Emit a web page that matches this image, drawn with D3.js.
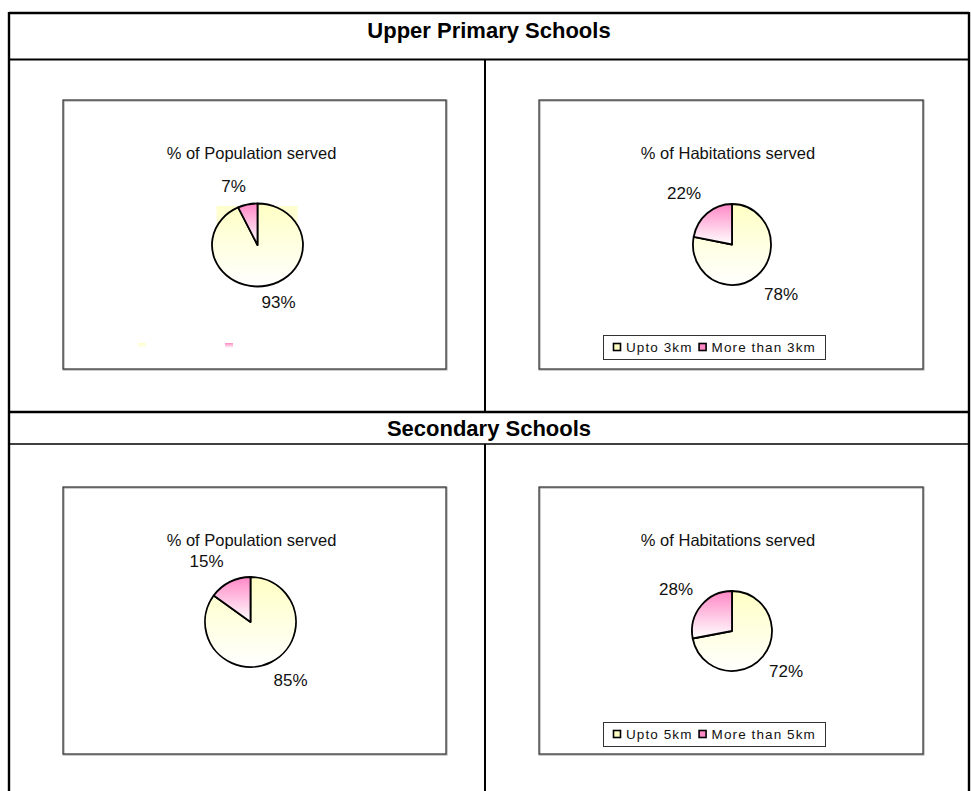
<!DOCTYPE html>
<html>
<head>
<meta charset="utf-8">
<script src="https://cdn.jsdelivr.net/npm/d3@7/dist/d3.min.js"></script>
<style>
  html, body { margin: 0; padding: 0; background: #fff; }
  svg { display: block; font-family: "Liberation Sans", Arial, sans-serif; }
</style>
</head>
<body>
<svg id="chart" width="971" height="791"></svg>
<script>
// ---- data ----
const sectionTitles = ["Upper Primary Schools", "Secondary Schools"];
const chartTitles = ["% of Population served", "% of Habitations served"];
const categoriesUpperPrimary = ["Upto 3km", "More than 3km"];
const categoriesSecondary = ["Upto 5km", "More than 5km"];
const upperPrimaryPopulation = [93, 7];
const upperPrimaryHabitations = [78, 22];
const secondaryPopulation = [85, 15];
const secondaryHabitations = [72, 28];

// ---- layout of the four chart panels ----
// labelOff: centre of each value label relative to the pie centre
const panels = [
  { values: upperPrimaryPopulation, cats: categoriesUpperPrimary, title: chartTitles[0],
    box: [63, 100, 446, 369], cx: 257.5, cy: 245, rx: 45.5, ry: 41.5,
    labelOff: [[21, 57], [-24, -59]], legend: false, strayKeys: true },
  { values: upperPrimaryHabitations, cats: categoriesUpperPrimary, title: chartTitles[1],
    box: [539, 100, 923, 369], cx: 732, cy: 244.5, rx: 39, ry: 40.5,
    labelOff: [[49, 50], [-48, -51]], legend: true },
  { values: secondaryPopulation, cats: categoriesSecondary, title: chartTitles[0],
    box: [63, 487, 446, 754], cx: 250.5, cy: 622, rx: 45.5, ry: 45,
    labelOff: [[40, 58], [-44, -61]], legend: false },
  { values: secondaryHabitations, cats: categoriesSecondary, title: chartTitles[1],
    box: [539, 487, 923, 754], cx: 732, cy: 631, rx: 40, ry: 40,
    labelOff: [[54, 40], [-56, -42]], legend: true }
];

const sliceColors = ["#ffffc4", "#ff88c6"];

const svg = d3.select("#chart");
const defs = svg.append("defs");

// vertical fades used for the slices (colour at top, white at bottom)
sliceColors.forEach((c, i) => {
  const g = defs.append("linearGradient").attr("id", "fade" + i)
    .attr("x1", 0).attr("y1", 0).attr("x2", 0).attr("y2", 1);
  g.append("stop").attr("offset", "0%").attr("stop-color", c);
  g.append("stop").attr("offset", "100%").attr("stop-color", "#ffffff");
  const h = defs.append("linearGradient").attr("id", "haze" + i)
    .attr("x1", 0).attr("y1", 0).attr("x2", 0).attr("y2", 1);
  h.append("stop").attr("offset", "0%").attr("stop-color", c).attr("stop-opacity", 0.85);
  h.append("stop").attr("offset", "100%").attr("stop-color", c).attr("stop-opacity", 0);
});

// ---- table frame ----
const frame = svg.append("g").attr("fill", "none").attr("stroke", "#000");
const L = 9, R = 969, T = 13;
frame.append("line").attr("x1", L).attr("x2", L).attr("y1", T - 1).attr("y2", 791).attr("stroke-width", 2.4);
frame.append("line").attr("x1", R).attr("x2", R).attr("y1", T - 1).attr("y2", 791).attr("stroke-width", 2.4);
frame.append("line").attr("x1", L).attr("x2", R).attr("y1", T).attr("y2", T).attr("stroke-width", 2.4);
frame.append("line").attr("x1", L).attr("x2", R).attr("y1", 59.5).attr("y2", 59.5).attr("stroke-width", 2);
frame.append("line").attr("x1", L).attr("x2", R).attr("y1", 412).attr("y2", 412).attr("stroke-width", 2.4);
frame.append("line").attr("x1", L).attr("x2", R).attr("y1", 444).attr("y2", 444).attr("stroke-width", 1.6);
frame.append("line").attr("x1", 485).attr("x2", 485).attr("y1", 59).attr("y2", 412).attr("stroke-width", 2);
frame.append("line").attr("x1", 485).attr("x2", 485).attr("y1", 444).attr("y2", 791).attr("stroke-width", 2);

svg.selectAll("text.section").data(sectionTitles).join("text")
  .attr("class", "section")
  .attr("x", (L + R) / 2)
  .attr("y", (d, i) => i === 0 ? 38 : 436)
  .attr("text-anchor", "middle")
  .attr("font-weight", "bold")
  .attr("font-size", 22)
  .text(d => d);

// ---- pie panels ----
const pie = d3.pie().sort(null).value(d => d);

panels.forEach(p => {
  const [x0, y0, x1, y1] = p.box;
  const g = svg.append("g");

  // chart area border
  g.append("rect").attr("x", x0 + 0.5).attr("y", y0 + 0.5)
    .attr("width", x1 - x0).attr("height", y1 - y0)
    .attr("fill", "#fff").attr("stroke", "#9a9a9a").attr("stroke-width", 2);
  g.append("rect").attr("x", x0).attr("y", y0)
    .attr("width", x1 - x0).attr("height", y1 - y0)
    .attr("fill", "none").attr("stroke", "#333").attr("stroke-width", 1);

  g.append("text")
    .attr("x", (x0 + x1) / 2 - 3)
    .attr("y", y0 + 59)
    .attr("text-anchor", "middle")
    .attr("font-size", 16.5)
    .attr("fill", "#111")
    .text(p.title);

  const arcs = pie(p.values);
  const arc = d3.arc().innerRadius(0).outerRadius(p.rx);
  const pg = g.append("g").attr("transform", `translate(${p.cx},${p.cy})`);

  // faint fill boxes left around the first pie
  if (p.strayKeys) {
    pg.append("rect").attr("x", -41).attr("y", -39).attr("width", 81).attr("height", 68)
      .attr("fill", "url(#haze0)");
    pg.append("rect").attr("x", -19).attr("y", -39).attr("width", 18).attr("height", 42)
      .attr("fill", "url(#haze1)");
  }

  pg.append("g").attr("transform", `scale(1,${p.ry / p.rx})`)
    .selectAll("path").data(arcs).join("path")
    .attr("d", arc)
    .attr("fill", (d, i) => `url(#fade${i})`)
    .attr("stroke", "#000")
    .attr("stroke-width", 1.8)
    .attr("stroke-linejoin", "round")
    .attr("vector-effect", "non-scaling-stroke");

  // value labels
  pg.selectAll("text").data(arcs).join("text")
    .attr("x", (d, i) => p.labelOff[i][0])
    .attr("y", (d, i) => p.labelOff[i][1])
    .attr("text-anchor", "middle")
    .attr("dominant-baseline", "central")
    .attr("font-size", 17)
    .attr("fill", "#111")
    .text(d => d.data + "%");

  // legend
  if (p.legend) {
    const lx = x0 + 64, ly = y0 + 235, lw = 222, lh = 24;
    const lg = g.append("g");
    lg.append("rect").attr("x", lx + 0.5).attr("y", ly + 0.5).attr("width", lw).attr("height", lh)
      .attr("fill", "#fff").attr("stroke", "#333").attr("stroke-width", 1);
    let cx = lx + 10;
    p.cats.forEach((c, i) => {
      lg.append("rect").attr("x", cx + 0.5).attr("y", ly + 8.5).attr("width", 7).attr("height", 7)
        .attr("fill", sliceColors[i]).attr("stroke", "#000").attr("stroke-width", 1.6);
      const t = lg.append("text").attr("x", cx + 13).attr("y", ly + 17)
        .attr("font-size", 13.5).attr("letter-spacing", 1.1).attr("fill", "#111").text(c);
      cx += 13 + t.node().getComputedTextLength() + 6;
    });
  } else if (p.strayKeys) {
    // two leftover legend keys without text
    const sx = [x0 + 75, x0 + 162];
    sx.forEach((x, i) => {
      g.append("rect").attr("x", x).attr("y", y0 + 243).attr("width", 8).attr("height", 5)
        .attr("fill", `url(#fade${i})`);
    });
  }
});
</script>
</body>
</html>
